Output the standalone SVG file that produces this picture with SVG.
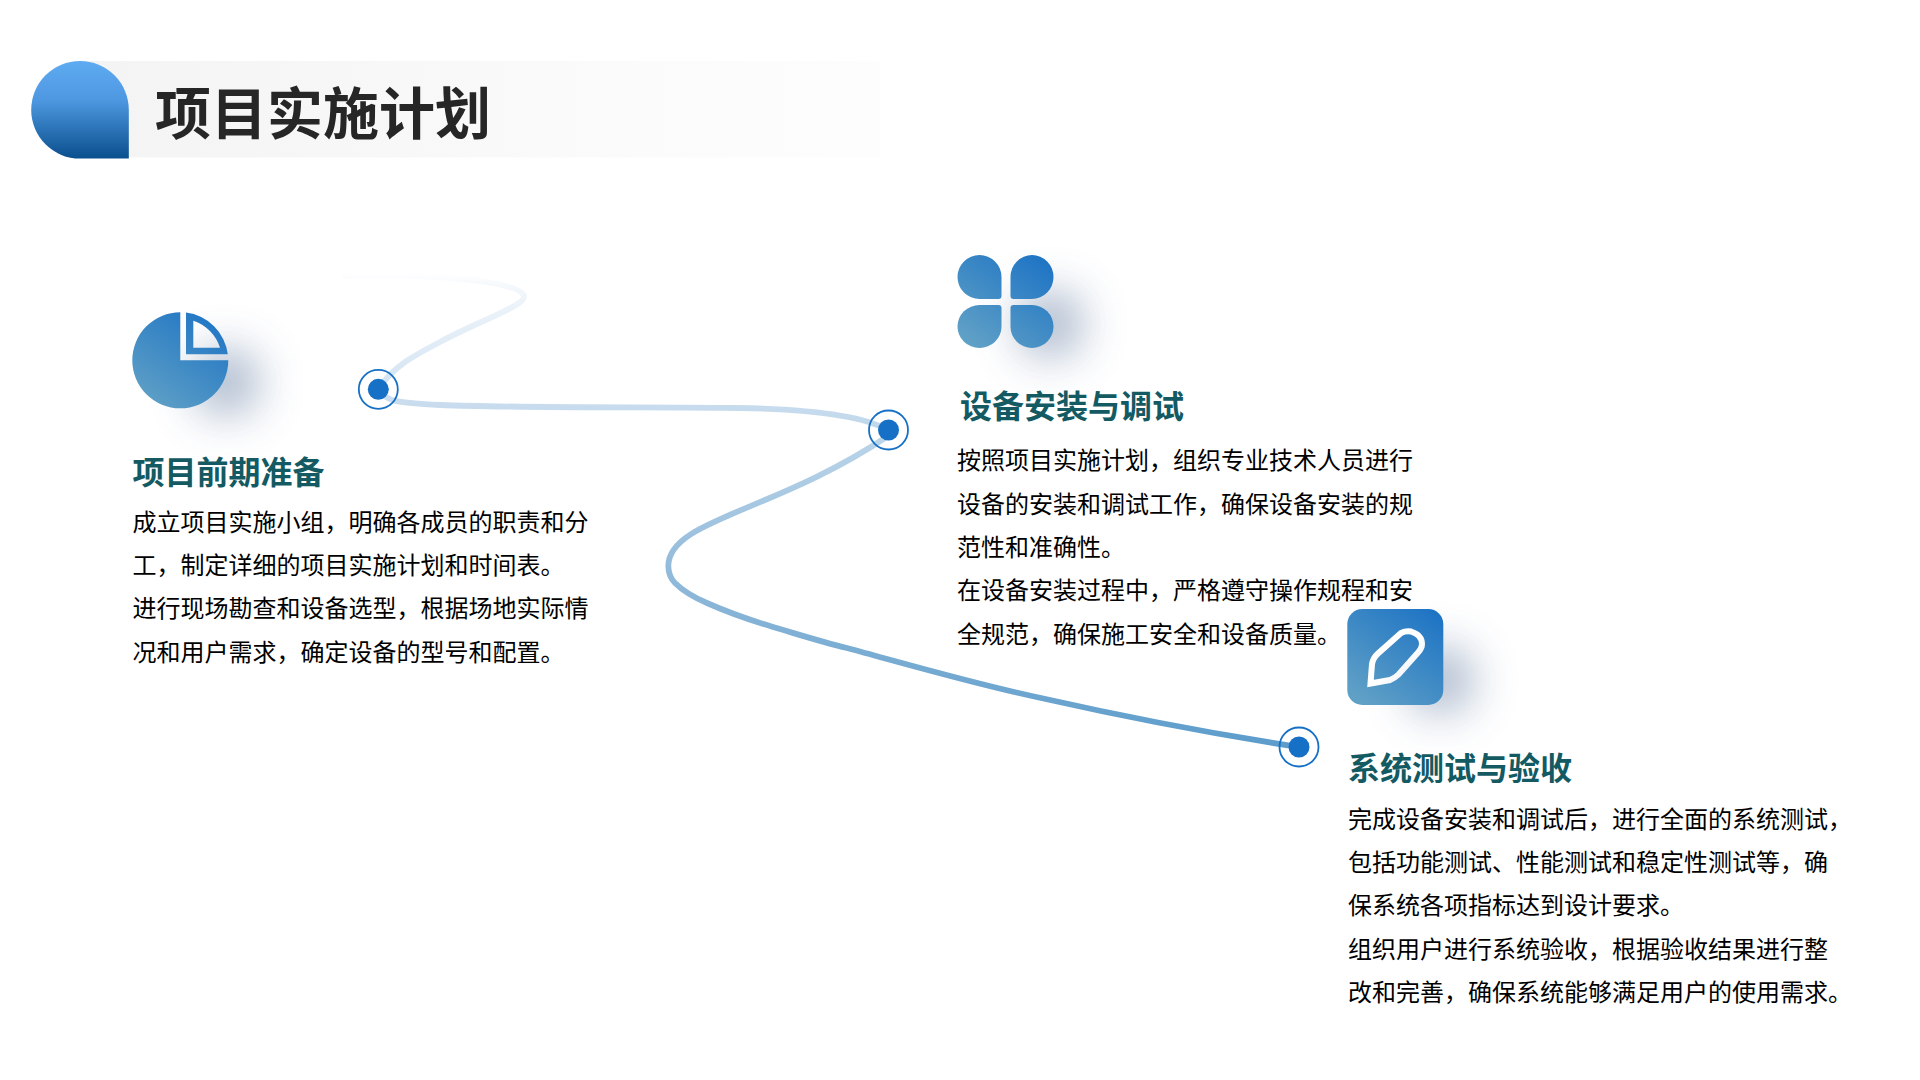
<svg xmlns="http://www.w3.org/2000/svg" width="1920" height="1080" viewBox="0 0 1920 1080">
<style>
text{font-family:"Noto Sans CJK SC","Microsoft YaHei",sans-serif}
.h{font-size:56px;font-weight:700;fill:#262626}
.t{font-size:32px;font-weight:700;fill:#135a63}
.b{font-size:24px;fill:#000}
.ring{fill:none;stroke:#1670c6;stroke-width:1.800}
.dot{fill:#1670c6}
.sh{fill:#3a5a88;opacity:.55;filter:url(#blur)}
</style>
<defs>
<linearGradient id="bar" gradientUnits="userSpaceOnUse" x1="110" x2="880" y1="0" y2="0"><stop offset="0" stop-color="#f4f4f4"/><stop offset=".68" stop-color="#fbfbfb"/><stop offset="1" stop-color="#fdfdfd"/></linearGradient>
<linearGradient id="blob" x1="0" x2="0" y1="0" y2="1"><stop offset="0" stop-color="#5fabf2"/><stop offset=".4" stop-color="#4d98e0"/><stop offset="1" stop-color="#0a4f8e"/></linearGradient>
<linearGradient id="g1" gradientUnits="userSpaceOnUse" x1="226" y1="312" x2="155" y2="410"><stop offset="0" stop-color="#1a71c4"/><stop offset="1" stop-color="#5fa0c6"/></linearGradient>
<linearGradient id="g2" gradientUnits="userSpaceOnUse" x1="1052" y1="255" x2="981" y2="350"><stop offset="0" stop-color="#1a71c4"/><stop offset="1" stop-color="#5fa0c6"/></linearGradient>
<linearGradient id="g3" gradientUnits="userSpaceOnUse" x1="1442" y1="609" x2="1371" y2="707"><stop offset="0" stop-color="#1a71c4"/><stop offset="1" stop-color="#5fa0c6"/></linearGradient>
<linearGradient id="pen" gradientUnits="userSpaceOnUse" x1="1380" y1="640" x2="1420" y2="680"><stop offset="0" stop-color="#fff"/><stop offset=".5" stop-color="#fff"/><stop offset="1" stop-color="#e6ebf2"/></linearGradient>
<linearGradient id="line" gradientUnits="userSpaceOnUse" x1="0" x2="0" y1="272" y2="747">
<stop offset="0" stop-color="#ffffff"/><stop offset=".006" stop-color="#fefeff"/><stop offset=".02" stop-color="#f8fbfd"/><stop offset=".053" stop-color="#eef4fa"/><stop offset=".21" stop-color="#d8e7f4"/><stop offset=".28" stop-color="#c8dcee"/><stop offset=".37" stop-color="#b8d3e8"/><stop offset=".62" stop-color="#93bbdb"/><stop offset=".73" stop-color="#85b3d6"/><stop offset="1" stop-color="#5c9ccb"/></linearGradient>
<filter id="blur" x="-300%" y="-300%" width="700%" height="700%"><feGaussianBlur stdDeviation="24"/></filter>
</defs>

<g id="header">
<rect x="80" y="61" width="800" height="96.500" fill="url(#bar)"/>
<path d="M80 61A48.800 48.800 0 0 1 128.800 109.800V158.600H80A48.800 48.800 0 0 1 80 61Z" fill="url(#blob)"/>
<text class="h" x="155" y="134">项目实施计划</text>
</g>

<g id="connectors">
<path fill="none" stroke="url(#line)" stroke-width="5.800" stroke-linecap="round" d="M345 276C420 273 520 280 524 296C526 306 480 320 440 342C415 355 395 365 378 389C385 402 400 403 440 405C520 408 640 407 740 408C800 409 860 414 888 430L888 436C775 512 668.300 520 668.300 566C668.500 575 672 580 675 583C682 590 693 597 707 603C727 612 750 620 773 627C797 634 822 642 847 648C910 665 975 684 1041 698C1130 718 1220 735 1299 747"/>
</g>

<g id="node-1">
<circle class="sh" cx="226" cy="382" r="30"/>
<path d="M180.300 312.300A48 48 0 1 0 228.300 360.300H180.300Z" fill="url(#g1)"/>
<path fill-rule="evenodd" d="M186 312.600A48 48 0 0 1 227.800 354.300H186ZM193.300 320.700V347.700H220A41.600 41.600 0 0 0 193.300 320.700Z" fill="url(#g1)"/>
<circle class="ring" cx="378.300" cy="389.300" r="19.500"/>
<circle class="dot" cx="378.300" cy="389.300" r="10.500"/>
<text class="t" x="132.500" y="484">项目前期准备</text>
<text class="b" x="132.500" y="531">成立项目实施小组，明确各成员的职责和分</text>
<text class="b" x="132.500" y="574">工，制定详细的项目实施计划和时间表。</text>
<text class="b" x="132.500" y="617">进行现场勘查和设备选型，根据场地实际情</text>
<text class="b" x="132.500" y="661">况和用户需求，确定设备的型号和配置。</text>
</g>

<g id="node-2">
<circle class="sh" cx="1050" cy="324" r="30"/>
<g fill="url(#g2)">
<path d="M979.500 255A22 22 0 0 1 1001.500 277V296Q1001.500 299 998.500 299H979.500A22 22 0 0 1 979.500 255Z"/>
<path d="M1032 255A21.500 22 0 0 1 1053.500 277A21.500 22 0 0 1 1032 299H1013.500Q1010.500 299 1010.500 296V277A21.500 22 0 0 1 1032 255Z"/>
<path d="M979.500 305H998.500Q1001.500 305 1001.500 308V326.500A22 21.500 0 0 1 979.500 348A22 21.500 0 0 1 979.500 305Z"/>
<path d="M1013.500 305H1032A21.500 21.500 0 0 1 1032 348A21.500 21.500 0 0 1 1010.500 326.500V308Q1010.500 305 1013.500 305Z"/>
</g>
<circle class="ring" cx="888.500" cy="430" r="19.500"/>
<circle class="dot" cx="888.500" cy="430" r="10.500"/>
<text class="t" x="960" y="418">设备安装与调试</text>
<text class="b" x="957" y="469">按照项目实施计划，组织专业技术人员进行</text>
<text class="b" x="957" y="512.500">设备的安装和调试工作，确保设备安装的规</text>
<text class="b" x="957" y="556">范性和准确性。</text>
<text class="b" x="957" y="599">在设备安装过程中，严格遵守操作规程和安</text>
<text class="b" x="957" y="642.500">全规范，确保施工安全和设备质量。</text>
</g>

<g id="node-3">
<circle class="sh" cx="1440" cy="680" r="30"/>
<rect x="1347.300" y="609" width="96" height="96" rx="15" fill="url(#g3)"/>
<path d="M1370.500 683.500L1372 664Q1373 658 1378 653.500L1401 633Q1406 630.500 1411 631.500Q1422 635 1422 644Q1422 648 1418.500 652L1398.500 674.500Q1395 678 1390 680Z" fill="none" stroke="url(#pen)" stroke-width="6"/>
<circle class="ring" cx="1299" cy="747" r="19.500"/>
<circle class="dot" cx="1299" cy="747" r="10.500"/>
<text class="t" x="1348" y="780">系统测试与验收</text>
<text class="b" x="1348" y="828">完成设备安装和调试后，进行全面的系统测试，</text>
<text class="b" x="1348" y="871">包括功能测试、性能测试和稳定性测试等，确</text>
<text class="b" x="1348" y="914">保系统各项指标达到设计要求。</text>
<text class="b" x="1348" y="957.500">组织用户进行系统验收，根据验收结果进行整</text>
<text class="b" x="1348" y="1001">改和完善，确保系统能够满足用户的使用需求。</text>
</g>
</svg>
